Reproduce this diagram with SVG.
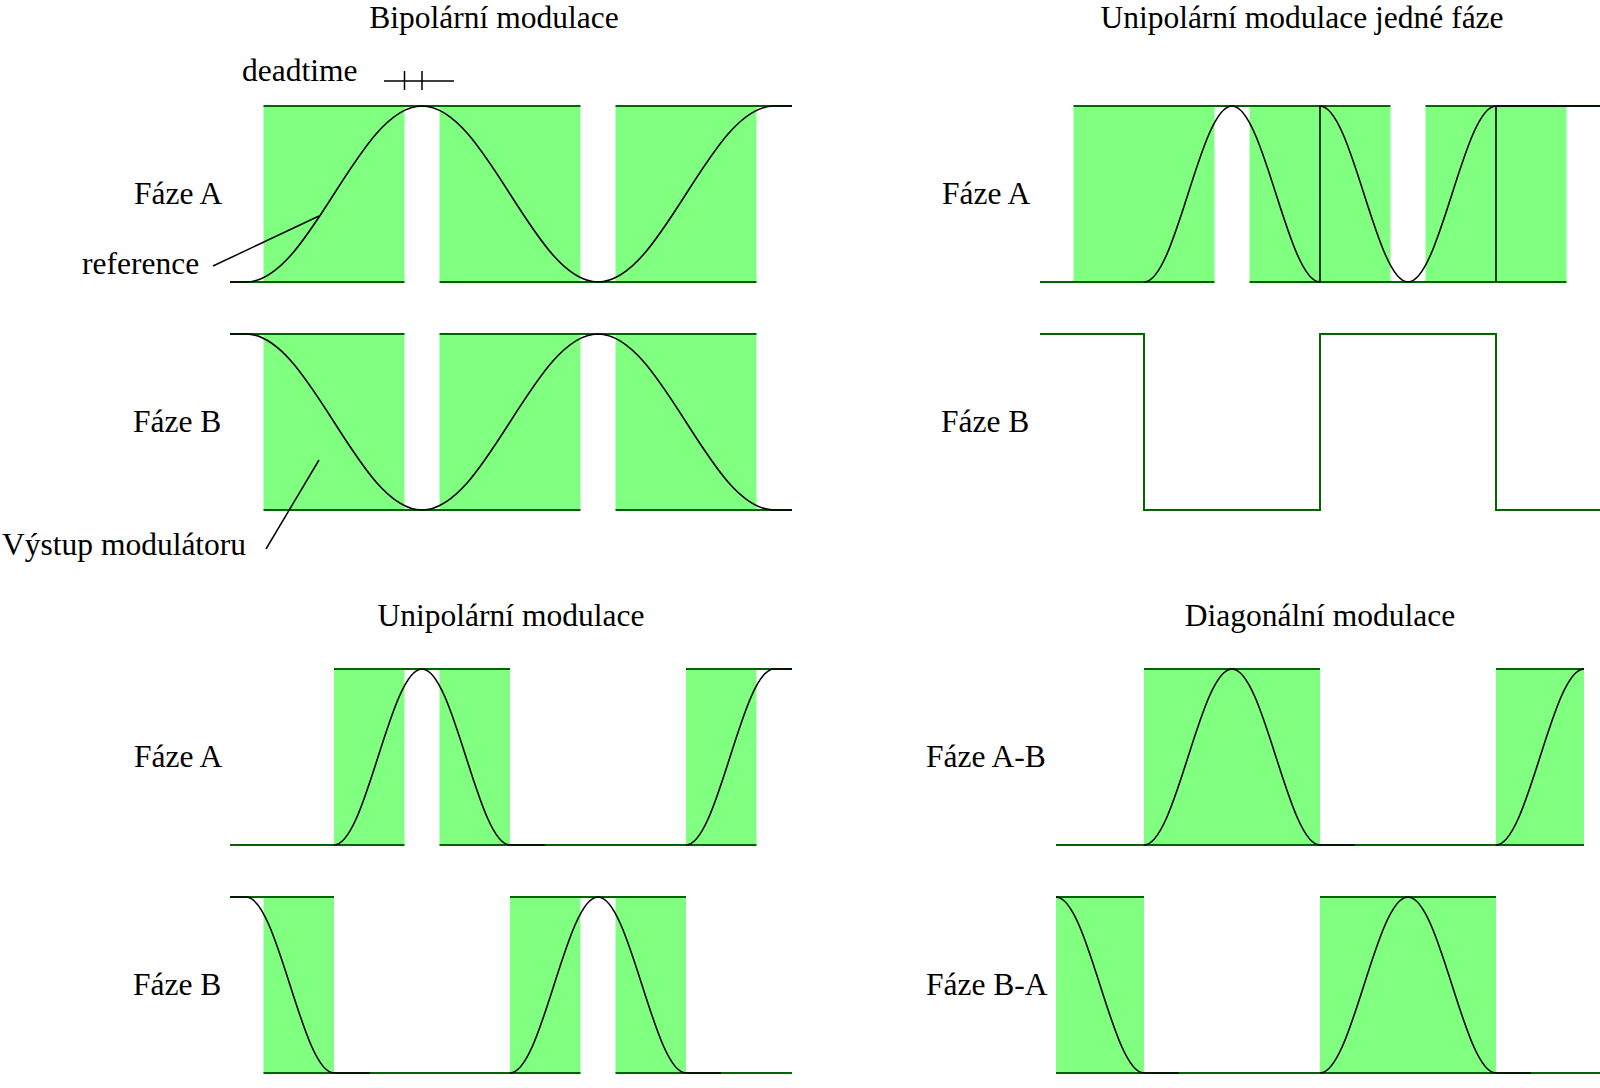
<svg xmlns="http://www.w3.org/2000/svg" width="1600" height="1088" viewBox="0 0 1600 1088">
<style>
.bg{fill:#ffffff}
.pwm{fill:#80ff80;stroke:none}
.out{fill:none;stroke:#006400;stroke-width:2}
.ref{fill:none;stroke:#000000;stroke-width:1.6}
.lead{fill:none;stroke:#000000;stroke-width:1.5}
text{font-family:"Liberation Serif","Times New Roman",serif;font-size:31.5px;fill:#000000}
.title{text-anchor:middle}
</style>
<rect class="bg" x="0" y="0" width="1600" height="1088"/>

<!-- Bipolární modulace -->
<g id="panel-bipolar">
  <text class="title" x="494" y="28">Bipolární modulace</text>
  <g id="bip-a">
    <text x="134" y="204">Fáze A</text>
    <rect class="pwm" x="263.5" y="106" width="141" height="176"/>
    <rect class="pwm" x="439.5" y="106" width="141" height="176"/>
    <rect class="pwm" x="615.5" y="106" width="141" height="176"/>
    <path class="out" d="M263.5,106H580.5M615.5,106H792M230,282H404.5M439.5,282H756.5"/>
    <path class="ref" d="M230,282H246C310,282 358,106 422,106C486,106 534,282 598,282C662,282 710,106 774,106H792"/>
  </g>
  <g id="bip-b">
    <text x="133" y="432">Fáze B</text>
    <rect class="pwm" x="263.5" y="334" width="141" height="176"/>
    <rect class="pwm" x="439.5" y="334" width="141" height="176"/>
    <rect class="pwm" x="615.5" y="334" width="141" height="176"/>
    <path class="out" d="M230,334H404.5M439.5,334H756.5M263.5,510H580.5M615.5,510H792"/>
    <path class="ref" d="M230,334H246C310,334 358,510 422,510C486,510 534,334 598,334C662,334 710,510 774,510H792"/>
  </g>
  <g id="deadtime">
    <text x="242" y="81">deadtime</text>
    <path class="lead" d="M384,81H454M404.5,71V90M422,71V90"/>
  </g>
  <g id="label-reference"><text x="82" y="274">reference</text></g>
  <g id="label-vystup"><text x="2" y="555">Výstup modulátoru</text></g>
</g>

<!-- Unipolární modulace jedné fáze -->
<g id="panel-unipolar-single">
  <text class="title" x="1302" y="28">Unipolární modulace jedné fáze</text>
  <g id="ups-a">
    <text x="942" y="204">Fáze A</text>
    <rect class="pwm" x="1073.5" y="106" width="141" height="176"/>
    <rect class="pwm" x="1249.5" y="106" width="141" height="176"/>
    <rect class="pwm" x="1425.5" y="106" width="141" height="176"/>
    <path class="out" d="M1073.5,106H1390.5M1425.5,106H1600M1040,282H1214.5M1249.5,282H1566.5"/>
    <path class="ref" d="M1144,282C1176,282 1200,106 1232,106C1264,106 1288,282 1320,282V106C1352,106 1376,282 1408,282C1440,282 1464,106 1496,106V282M1496,106H1600"/>
  </g>
  <g id="ups-b">
    <text x="941" y="432">Fáze B</text>
    <path class="out" d="M1040,334H1144V510H1320V334H1496V510H1600"/>
  </g>
</g>

<!-- Unipolární modulace -->
<g id="panel-unipolar">
  <text class="title" x="511" y="626">Unipolární modulace</text>
  <g id="up-a">
    <text x="134" y="767">Fáze A</text>
    <rect class="pwm" x="334" y="669" width="70.5" height="176"/>
    <rect class="pwm" x="439.5" y="669" width="70.5" height="176"/>
    <rect class="pwm" x="686" y="669" width="70.5" height="176"/>
    <path class="out" d="M334,669H510M686,669H792M230,845H404.5M439.5,845H756.5"/>
    <path class="ref" d="M334,845C366,845 390,669 422,669C454,669 478,845 510,845H545M686,845C718,845 742,669 774,669H792"/>
  </g>
  <g id="up-b">
    <text x="133" y="995">Fáze B</text>
    <rect class="pwm" x="263.5" y="897" width="70.5" height="176"/>
    <rect class="pwm" x="510" y="897" width="70.5" height="176"/>
    <rect class="pwm" x="615.5" y="897" width="70.5" height="176"/>
    <path class="out" d="M230,897H334M510,897H686M263.5,1073H580.5M615.5,1073H792"/>
    <path class="ref" d="M230,897H246C278,897 302,1073 334,1073H370M510,1073C542,1073 566,897 598,897C630,897 654,1073 686,1073H721"/>
  </g>
</g>

<!-- Diagonální modulace -->
<g id="panel-diagonal">
  <text class="title" x="1320" y="626">Diagonální modulace</text>
  <g id="diag-ab">
    <text x="926" y="767">Fáze A-B</text>
    <rect class="pwm" x="1144" y="669" width="176" height="176"/>
    <rect class="pwm" x="1496" y="669" width="88" height="176"/>
    <path class="out" d="M1144,669H1320M1496,669H1584M1056,845H1584"/>
    <path class="ref" d="M1144,845C1176,845 1200,669 1232,669C1264,669 1288,845 1320,845H1355M1496,845C1528,845 1552,669 1584,669"/>
  </g>
  <g id="diag-ba">
    <text x="926" y="995">Fáze B-A</text>
    <rect class="pwm" x="1056" y="897" width="88" height="176"/>
    <rect class="pwm" x="1320" y="897" width="176" height="176"/>
    <path class="out" d="M1056,897H1144M1320,897H1496M1056,1073H1600"/>
    <path class="ref" d="M1056,897C1088,897 1112,1073 1144,1073H1179M1320,1073C1352,1073 1376,897 1408,897C1440,897 1464,1073 1496,1073H1531"/>
  </g>
</g>

<g id="connectors">
  <path class="lead" d="M213,266L319,216"/>
  <path class="lead" d="M266,549L319,460"/>
</g>
</svg>
